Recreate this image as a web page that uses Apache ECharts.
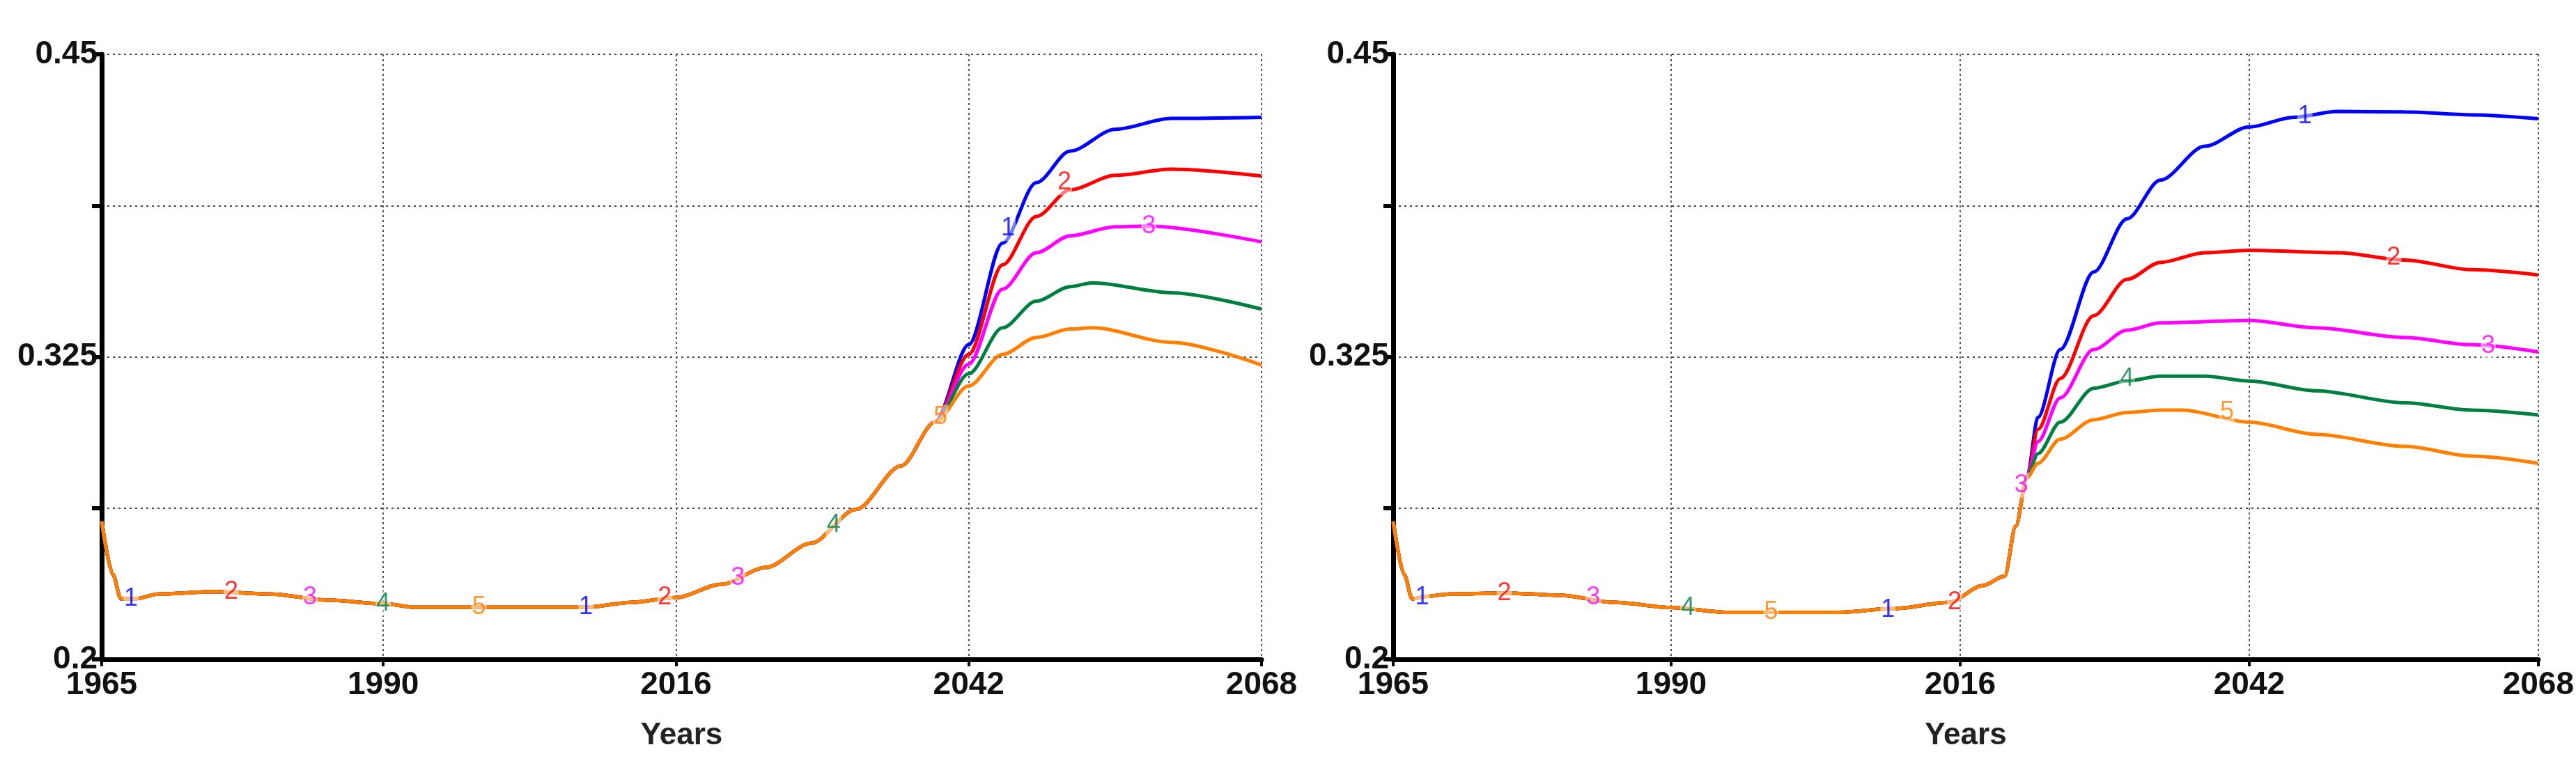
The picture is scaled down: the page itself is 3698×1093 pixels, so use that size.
<!DOCTYPE html>
<html><head><meta charset="utf-8">
<script src="https://cdn.jsdelivr.net/npm/echarts@6/dist/echarts.min.js"></script>
<style>html,body{margin:0;padding:0;background:#fff}#c{width:3698px;height:1093px}</style>
</head><body><div id="c"></div>
<script>
const xTicks = [1965, 1990, 2016, 2042, 2068];
const yLabels = [0.2, 0.325, 0.45];
const seriesNames = ['1','2','3','4','5'];
const colors = ['#0000ff','#ff0000','#ff00ff','#008040','#ff8000'];

const leftCommon = [[1965,0.257],[1966,0.235],[1966.7,0.225],[1968,0.225],[1970,0.227],[1975,0.228],[1980,0.227],[1985,0.2245],[1990,0.223],[1993,0.2215],[2000,0.2215],[2008,0.2215],[2012,0.2235],[2016,0.2255],[2020,0.231],[2024,0.238],[2028,0.248],[2032,0.262],[2036,0.28],[2039,0.298]];
const left1 = [[2042,0.33],[2045,0.372],[2048,0.397],[2051,0.41],[2055,0.419],[2060,0.4235],[2068,0.424]];
const left2 = [[2042,0.326],[2045,0.363],[2048,0.383],[2051,0.394],[2055,0.4],[2060,0.4025],[2068,0.3997]];
const left3 = [[2042,0.322],[2045,0.353],[2048,0.368],[2051,0.375],[2055,0.3787],[2058,0.379],[2068,0.3725]];
const left4 = [[2042,0.318],[2045,0.337],[2048,0.348],[2051,0.354],[2053,0.3556],[2060,0.3515],[2068,0.3447]];
const left5 = [[2042,0.313],[2045,0.326],[2048,0.333],[2051,0.3365],[2053,0.337],[2060,0.331],[2068,0.3216]];

const rightCommon = [[1965,0.257],[1966,0.235],[1966.7,0.225],[1968,0.226],[1970,0.227],[1975,0.2274],[1980,0.2265],[1985,0.2235],[1990,0.2214],[1995,0.2194],[2005,0.2194],[2010,0.221],[2015,0.2235],[2018,0.2304],[2020,0.2344],[2021,0.255],[2022,0.275]];
const right1 = [[2023,0.30],[2025,0.328],[2028,0.36],[2031,0.382],[2034,0.398],[2038,0.412],[2042,0.42],[2046,0.424],[2050,0.4264],[2056,0.4262],[2062,0.425],[2068,0.4234]];
const right2 = [[2023,0.295],[2025,0.316],[2028,0.342],[2031,0.357],[2034,0.364],[2038,0.368],[2042,0.369],[2050,0.368],[2056,0.365],[2062,0.361],[2068,0.3588]];
const right3 = [[2023,0.29],[2025,0.308],[2028,0.328],[2031,0.336],[2034,0.339],[2042,0.34],[2048,0.337],[2056,0.333],[2062,0.33],[2068,0.327]];
const right4 = [[2023,0.285],[2025,0.298],[2028,0.312],[2031,0.315],[2034,0.317],[2038,0.317],[2042,0.315],[2048,0.311],[2056,0.306],[2062,0.303],[2068,0.301]];
const right5 = [[2023,0.281],[2025,0.291],[2028,0.299],[2031,0.302],[2034,0.303],[2036,0.303],[2042,0.298],[2048,0.293],[2056,0.288],[2062,0.284],[2068,0.281]];

const leftLabels = [[1967.6,0.225,0],[1976.5,0.228,1],[1983.5,0.2255,2],[1990,0.223,3],[1998.5,0.2215,4],[2008,0.2215,0],[2015,0.2255,1],[2021.5,0.2335,2],[2030,0.2555,3],[2039.5,0.3,4],[2045.5,0.378,0],[2050.5,0.397,1],[2058,0.379,2]];
const rightLabels = [[1967.6,0.2255,0],[1975,0.2274,1],[1983,0.2255,2],[1991.5,0.2214,3],[1999,0.2194,4],[2009.5,0.2205,0],[2015.5,0.2235,1],[2021.5,0.272,2],[2031,0.316,3],[2040,0.302,4],[2047,0.4245,0],[2055,0.366,1],[2063.5,0.3295,2]];

const leftSets = [left1,left2,left3,left4,left5].map(s => leftCommon.concat(s));
const rightSets = [right1,right2,right3,right4,right5].map(s => rightCommon.concat(s));

const font = '"Liberation Sans Narrow","Liberation Sans",Arial,sans-serif';
function xAx(gi){return {type:'value',gridIndex:gi,min:1965,max:2068,name:'Years',nameLocation:'middle',nameGap:88,
  nameTextStyle:{fontFamily:font,fontWeight:'bold',fontSize:44,color:'#222'},
  axisLine:{lineStyle:{color:'#000',width:7}},
  axisTick:{show:true,customValues:xTicks,length:10,lineStyle:{color:'#000',width:4}},
  axisLabel:{customValues:xTicks,formatter:v=>String(Math.round(v)),fontFamily:font,fontWeight:'bold',fontSize:46,color:'#111',margin:14},
  splitLine:{show:true,lineStyle:{color:'#555',type:[3,4],width:2}}};}
function yAx(gi){return {type:'value',gridIndex:gi,min:0.2,max:0.45,interval:0.0625,
  axisLine:{show:true,lineStyle:{color:'#000',width:7}},
  axisTick:{show:true,length:14,lineStyle:{color:'#000',width:6}},
  axisLabel:{fontFamily:font,fontWeight:'bold',fontSize:46,color:'#111',margin:6,
    formatter:v=>{const m=yLabels.find(l=>Math.abs(l-v)<1e-6);return m===undefined?'':String(m);}},
  splitLine:{show:true,lineStyle:{color:'#444',type:[3,5],width:2}}};}

const series=[];
[[leftSets,leftLabels],[rightSets,rightLabels]].forEach(([sets,labs],gi)=>{
  sets.forEach((d,i)=>series.push({type:'line',name:seriesNames[i],xAxisIndex:gi,yAxisIndex:gi,data:d,
    showSymbol:false,smooth:0.3,smoothMonotone:'x',lineStyle:{color:colors[i],width:5},z:2+i,animation:false}));
  series.push({type:'scatter',xAxisIndex:gi,yAxisIndex:gi,symbolSize:1,itemStyle:{color:'rgba(0,0,0,0)'},z:20,animation:false,
    data:labs.map(l=>({value:[l[0],l[1]],label:{show:true,position:'inside',formatter:seriesNames[l[2]],
      color:colors[l[2]],fontFamily:font,fontSize:36,backgroundColor:'rgba(255,255,255,0.6)',padding:[0,1]}}))});
});

const chart=echarts.init(document.getElementById('c'),null,{renderer:'canvas'});
chart.setOption({animation:false,backgroundColor:'#fff',
  grid:[{left:146,right:1887,top:78,bottom:146},{left:2000,right:37,top:78,bottom:146}],
  xAxis:[xAx(0),xAx(1)],yAxis:[yAx(0),yAx(1)],series});
</script></body></html>
